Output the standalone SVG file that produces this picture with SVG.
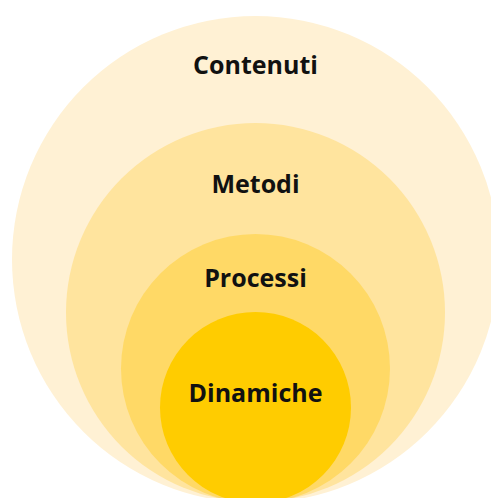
<svg xmlns="http://www.w3.org/2000/svg" width="491" height="498" viewBox="0 0 491 498">
<style>
text{font-family:"Open Sans","Noto Sans","Liberation Sans",sans-serif;font-weight:700;font-size:25px;fill:#111;text-anchor:middle}
</style>
<rect width="491" height="498" fill="#fff"/>
<g id="contenuti"><circle cx="255.5" cy="259.5" r="243.5" fill="#FFF1D4"/><text x="255.5" y="74">Contenuti</text></g>
<g id="metodi"><circle cx="255.5" cy="312.5" r="189.5" fill="#FFE49E"/><text x="255.5" y="193">Metodi</text></g>
<g id="processi"><circle cx="255.5" cy="368.5" r="134.5" fill="#FFD966"/><text x="255.5" y="287">Processi</text></g>
<g id="dinamiche"><circle cx="255.5" cy="407.5" r="95.5" fill="#FFCC00"/><text x="255.5" y="402">Dinamiche</text></g>
<g id="connectors"/>
</svg>
